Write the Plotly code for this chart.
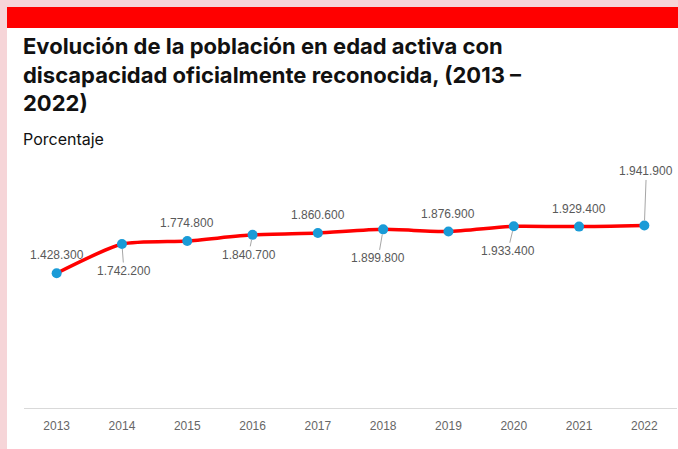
import plotly.graph_objects as go

# data
years = ["2013", "2014", "2015", "2016", "2017", "2018", "2019", "2020", "2021", "2022"]
poblacion = [1428300, 1742200, 1774800, 1840700, 1860600, 1899800, 1876900, 1933400, 1929400, 1941900]
etiquetas = ["1.428.300", "1.742.200", "1.774.800", "1.840.700", "1.860.600",
             "1.899.800", "1.876.900", "1.933.400", "1.929.400", "1.941.900"]

# label placement (pixels): (ax, ay) for leader lines, None -> plain label above
label_pos = [None, (2, 27), None, (-4, 20), None, (-5, 29), None, (-6, 25), None, (2, -54)]

W, H = 678, 449
L, R, T, B = 24, 1, 160, 41
pw, ph = W - L - R, H - T - B

def px_x(p):
    return (p - L) / pw

def px_y(p):
    return (H - B - p) / ph

fig = go.Figure()

fig.add_trace(go.Scatter(
    x=years,
    y=poblacion,
    mode="lines+markers",
    line=dict(color="#ff0000", width=3.5, shape="spline", smoothing=0.6),
    marker=dict(size=10, color="#1a9bd7"),
    hoverinfo="skip",
    showlegend=False,
))

label_font = dict(family="Liberation Sans, Arial", size=12, color="#595959")
annotations = []
for i, (val, txt, pos) in enumerate(zip(poblacion, etiquetas, label_pos)):
    if pos is None:
        annotations.append(dict(
            x=i, y=val, text=txt, showarrow=False, yshift=18, font=label_font,
        ))
    else:
        annotations.append(dict(
            x=i, y=val, text=txt, showarrow=True, ax=pos[0], ay=pos[1],
            arrowhead=0, arrowwidth=1, arrowcolor="#a6a6a6", standoff=5,
            font=label_font,
        ))

# title + subtitle
annotations.append(dict(
    xref="paper", yref="paper", x=px_x(21), y=px_y(31),
    xanchor="left", yanchor="top", align="left", showarrow=False,
    text="<b>Evolución de la población en edad activa con<br>discapacidad oficialmente reconocida, (2013 –<br>2022)</b>",
    font=dict(family="Inter, Roboto, sans-serif", size=22, color="#111111"),
))
annotations.append(dict(
    xref="paper", yref="paper", x=px_x(21), y=px_y(127),
    xanchor="left", yanchor="top", align="left", showarrow=False,
    text="Porcentaje",
    font=dict(family="Inter, Roboto, sans-serif", size=16, color="#111111"),
))

shapes = [
    # pink frame / red banner
    dict(type="rect", xref="paper", yref="paper", x0=px_x(0), x1=px_x(7), y0=px_y(H), y1=px_y(0),
         fillcolor="#f6d5d8", line=dict(width=0), layer="below"),
    dict(type="rect", xref="paper", yref="paper", x0=px_x(0), x1=px_x(W), y0=px_y(7), y1=px_y(0),
         fillcolor="#f6d5d8", line=dict(width=0), layer="below"),
    dict(type="rect", xref="paper", yref="paper", x0=px_x(7), x1=px_x(W), y0=px_y(28), y1=px_y(7),
         fillcolor="#ff0000", line=dict(width=0), layer="below"),
]

fig.update_layout(
    width=W, height=H,
    margin=dict(l=L, r=R, t=T, b=B),
    paper_bgcolor="white",
    plot_bgcolor="white",
    annotations=annotations,
    shapes=shapes,
    font=dict(family="Liberation Sans, Arial", size=12, color="#595959"),
)

fig.update_xaxes(
    type="category", range=[-0.5, 9.5],
    showline=True, linecolor="#d9d9d9", linewidth=1,
    showgrid=False, ticks="outside", ticklen=7, tickcolor="rgba(0,0,0,0)",
    tickfont=dict(size=12, color="#666666"),
    fixedrange=True,
)
fig.update_yaxes(
    range=[-21600, 2646000], visible=False, showgrid=False, zeroline=False,
    fixedrange=True,
)

fig.write_html(
    "out.html",
    config={"displayModeBar": False},
    post_script="document.body.style.margin='0';document.body.style.overflow='hidden';",
)
